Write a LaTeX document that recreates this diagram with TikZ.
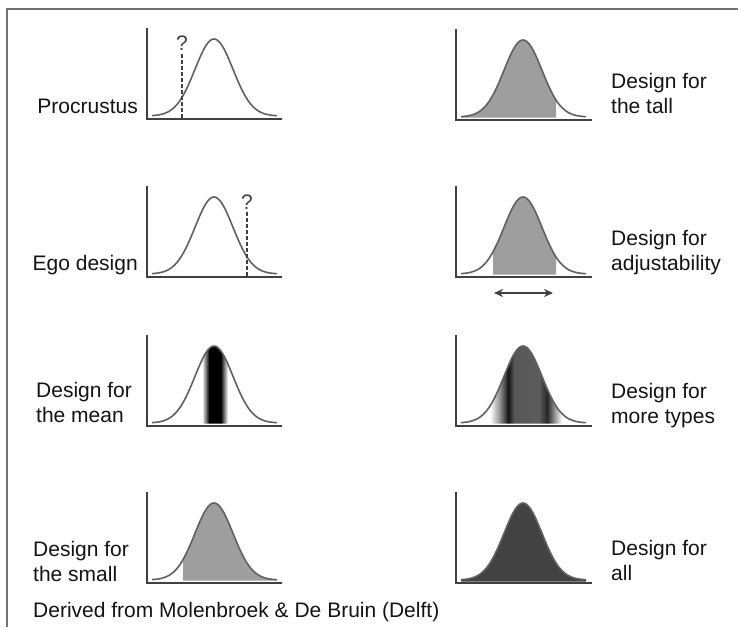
\documentclass[tikz,border=0pt]{standalone}
\usepackage{fontspec}
\setmainfont{Liberation Sans}
\usetikzlibrary{arrows.meta}
\definecolor{axisc}{gray}{0.25}
\definecolor{curvec}{gray}{0.38}
\definecolor{shadec}{gray}{0.62}
\definecolor{darkc}{gray}{0.26}
\definecolor{textc}{gray}{0.08}
\definecolor{framec}{gray}{0.45}
\newcommand{\gpart}[2]{plot[domain=#1:#2,samples=80] (\x,{-3-77*exp(-((\x-67)^2)/722)})}
\newcommand{\garea}[3]{(#1,#3) -- plot[domain=#1:#2,samples=80] (\x,{-3-77*exp(-((\x-67)^2)/722)}) -- (#2,#3) -- cycle}
\newcommand{\twol}[2]{\begin{tabular}[t]{@{}l@{}}#1\\#2\end{tabular}}
\begin{document}
\begin{tikzpicture}[x=1pt,y=-1pt,
  axes/.style={draw=axisc,line width=2.4pt},
  curve/.style={draw=curvec,line width=1.6pt},
  lab/.style={font=\fontsize{21}{25}\selectfont,text=textc,inner sep=0pt},
  qmark/.style={font=\fontsize{21}{25}\selectfont,text=axisc,inner sep=0pt},
  guess/.style={draw=axisc,line width=1.1pt,dash pattern=on 3.5pt off 2.5pt},
  arr/.style={draw=axisc,line width=2.2pt,{Stealth[length=9pt,width=8pt]}-{Stealth[length=9pt,width=8pt]}},
]
\useasboundingbox (0,0) rectangle (738,627);
\fill[white] (0,0) rectangle (738,627);
\draw[framec,line width=1.5pt] (7,627) -- (7,9) -- (738,9);

% ---------- Procrustus ----------
\begin{scope}[shift={(147,119)}]
  \draw[curve] \gpart{5}{130};
  \coordinate (p1t) at (35,-65);
  \coordinate (p1b) at (35,0);
  \draw[guess] (p1t) -- (p1b);
  \node[qmark] (q1) at (35,-76) {?};
  \draw[axes] (0,-91) |- (135,0);
\end{scope}
\node[lab,anchor=base east] (procr) at (138,113) {Procrustus};

% ---------- Ego design ----------
\begin{scope}[shift={(147,277)}]
  \draw[curve] \gpart{5}{130};
  \coordinate (p2t) at (100,-65);
  \coordinate (p2b) at (100,0);
  \draw[guess] (p2t) -- (p2b);
  \node[qmark] (q2) at (100,-75) {?};
  \draw[axes] (0,-91) |- (135,0);
\end{scope}
\node[lab,anchor=base east] (ego) at (138,270) {Ego design};

% ---------- Design for the mean ----------
\begin{scope}[shift={(147,426)}]
  \begin{scope}
    \clip \garea{5}{130}{-2.5};
    \shade[left color=white,right color=black] (55,0) rectangle (62.3,-90);
    \fill[black] (62,0) rectangle (74,-90);
    \shade[left color=black,right color=white] (73.7,0) rectangle (81,-90);
  \end{scope}
  \draw[curve] \gpart{5}{130};
  \draw[axes] (0,-91) |- (135,0);
\end{scope}
\node[lab,anchor=base west] (mean) at (36,397) {\twol{Design for}{the mean}};

% ---------- Design for the small ----------
\begin{scope}[shift={(147,583)}]
  \fill[shadec] \garea{36}{130}{-2.5};
  \draw[curve] \gpart{5}{130};
  \draw[axes] (0,-91) |- (135,0);
\end{scope}
\node[lab,anchor=base west] (small) at (33,556) {\twol{Design for}{the small}};

% ---------- Design for the tall ----------
\begin{scope}[shift={(456,120)}]
  \fill[shadec] \garea{5}{100}{-2.5};
  \draw[curve] \gpart{5}{130};
  \draw[axes] (0,-91) |- (136,0);
\end{scope}
\node[lab,anchor=base west] (tall) at (611,88) {\twol{Design for}{the tall}};

% ---------- Design for adjustability ----------
\begin{scope}[shift={(456,277)}]
  \fill[shadec] \garea{37}{100}{-2.5};
  \draw[curve] \gpart{5}{130};
  \draw[axes] (0,-91) |- (136,0);
  \coordinate (adjL) at (38,16);
  \coordinate (adjR) at (97,16);
  \draw[arr] (adjL) -- (adjR);
\end{scope}
\node[lab,anchor=base west] (adjust) at (611,245) {\twol{Design for}{adjustability}};

% ---------- Design for more types ----------
\begin{scope}[shift={(456,426)}]
  \begin{scope}
    \clip \garea{5}{130}{-2.5};
    \shade[left color=white,right color=black!45] (34,0) rectangle (44.3,-90);
    \shade[left color=black!45,right color=black!92] (44,0) rectangle (52.3,-90);
    \shade[left color=black!92,right color=black!66] (52,0) rectangle (58.3,-90);
    \shade[left color=black!66,right color=black!64] (58,0) rectangle (83.3,-90);
    \shade[left color=black!64,right color=black!85] (83,0) rectangle (91.3,-90);
    \shade[left color=black!85,right color=black!45] (91,0) rectangle (98.3,-90);
    \shade[left color=black!45,right color=white] (98,0) rectangle (106,-90);
  \end{scope}
  \draw[curve] \gpart{5}{130};
  \draw[axes] (0,-91) |- (136,0);
\end{scope}
\node[lab,anchor=base west] (types) at (611,398) {\twol{Design for}{more types}};

% ---------- Design for all ----------
\begin{scope}[shift={(456,583)}]
  \fill[darkc] \garea{5}{130}{-1.5};
  \draw[curve] \gpart{5}{130};
  \draw[axes] (0,-91) |- (136,0);
\end{scope}
\node[lab,anchor=base west] (all) at (611,555) {\twol{Design for}{all}};

% ---------- credit ----------
\node[lab,anchor=base west] (credit) at (33,617) {Derived from Molenbroek \& De Bruin (Delft)};
\end{tikzpicture}
\end{document}
